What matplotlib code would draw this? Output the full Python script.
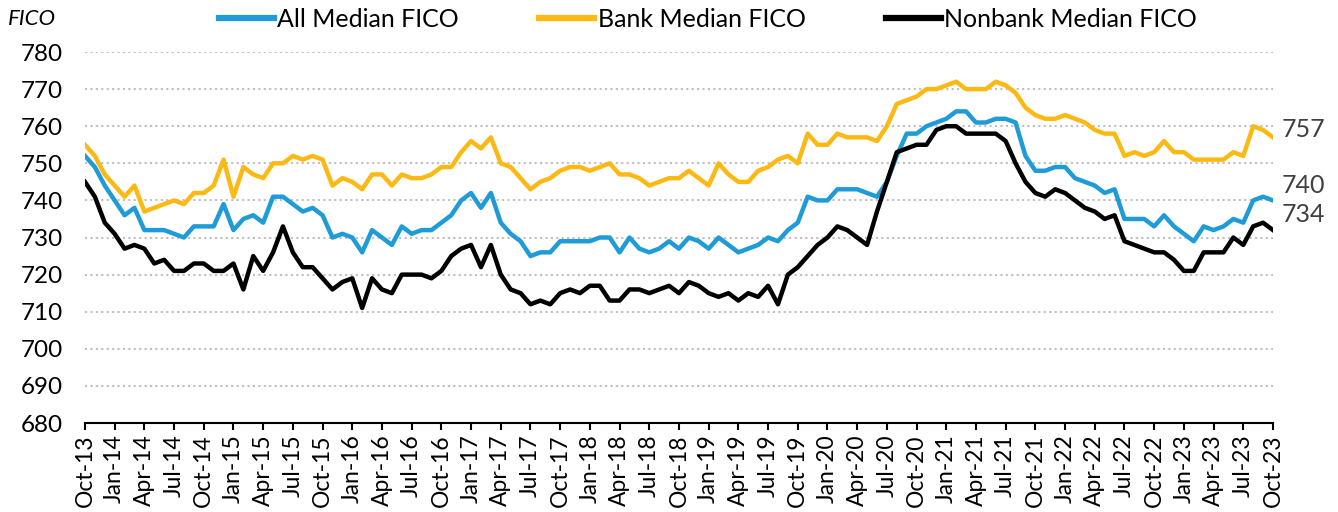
import matplotlib
matplotlib.use("Agg")
import matplotlib.pyplot as plt
import pandas as pd

plt.rcParams['font.family'] = ['Lato', 'DejaVu Sans']

# monthly, Oct-13 .. Oct-23
months = pd.date_range("2013-10-01", periods=121, freq="MS")

all_fico = [752, 749, 744, 740, 736, 738, 732, 732, 732, 731, 730, 733, 733, 733, 739, 732, 735, 736, 734, 741,
            741, 739, 737, 738, 736, 730, 731, 730, 726, 732, 730, 728, 733, 731, 732, 732, 734, 736, 740,
            742, 738, 742, 734, 731, 729, 725, 726, 726, 729, 729, 729, 729, 730, 730, 726, 730, 727, 726,
            727, 729, 727, 730, 729, 727, 730, 728, 726, 727, 728, 730, 729, 732, 734, 741, 740, 740, 743,
            743, 743, 742, 741, 745, 752, 758, 758, 760, 761, 762, 764, 764, 761, 761, 762, 762, 761, 752,
            748, 748, 749, 749, 746, 745, 744, 742, 743, 735, 735, 735, 733, 736, 733, 731, 729, 733, 732, 733,
            735, 734, 740, 741, 740]

bank_fico = [755, 752, 747, 744, 741, 744, 737, 738, 739, 740, 739, 742, 742, 744, 751, 741, 749, 747, 746, 750,
             750, 752, 751, 752, 751, 744, 746, 745, 743, 747, 747, 744, 747, 746, 746, 747, 749, 749, 753,
             756, 754, 757, 750, 749, 746, 743, 745, 746, 748, 749, 749, 748, 749, 750, 747, 747, 746, 744,
             745, 746, 746, 748, 746, 744, 750, 747, 745, 745, 748, 749, 751, 752, 750, 758, 755, 755, 758,
             757, 757, 757, 756, 760, 766, 767, 768, 770, 770, 771, 772, 770, 770, 770, 772, 771, 769, 765,
             763, 762, 762, 763, 762, 761, 759, 758, 758, 752, 753, 752, 753, 756, 753, 753, 751, 751, 751, 751,
             753, 752, 760, 759, 757]

nonbank_fico = [745, 741, 734, 731, 727, 728, 727, 723, 724, 721, 721, 723, 723, 721, 721, 723, 716, 725, 721, 726,
                733, 726, 722, 722, 719, 716, 718, 719, 711, 719, 716, 715, 720, 720, 720, 719, 721, 725, 727,
                728, 722, 728, 720, 716, 715, 712, 713, 712, 715, 716, 715, 717, 717, 713, 713, 716, 716, 715,
                716, 717, 715, 718, 717, 715, 714, 715, 713, 715, 714, 717, 712, 720, 722, 725, 728, 730, 733,
                732, 730, 728, 737, 745, 753, 754, 755, 755, 759, 760, 760, 758, 758, 758, 758, 756, 750, 745,
                742, 741, 743, 742, 740, 738, 737, 735, 736, 729, 728, 727, 726, 726, 724, 721, 721, 726, 726, 726,
                730, 728, 733, 734, 732]

series_names = ["All Median FICO", "Bank Median FICO", "Nonbank Median FICO"]
series_colors = ["#1f9bd7", "#fdb913", "#000000"]

end_labels = ["757", "740", "734"]
end_label_y = [759, 744, 736.3]

fig = plt.figure(figsize=(13.38, 5.12), dpi=100)
ax = fig.add_axes([0.0635, 0.1738, 0.8879, 0.7246])

x = range(len(months))
for vals, name, col in zip([all_fico, bank_fico, nonbank_fico], series_names, series_colors):
    ax.plot(x, vals, color=col, lw=3.2, label=name)

ax.set_xlim(0, len(months) - 1)
ax.set_ylim(680, 780)
ax.set_yticks(range(680, 781, 10))
ax.set_xticks(range(0, len(months), 3))
ax.set_xticklabels([m.strftime("%b-%y") for m in months[::3]], rotation=90)

ax.tick_params(axis="y", length=0, pad=16, labelsize=17.5, colors="black")
ax.tick_params(axis="x", length=5, width=1.5, direction="out", pad=3, labelsize=16.5)

ax.grid(axis="y", color="#bfbfbf", lw=1.5, linestyle=(0, (1, 1.6)))
ax.set_axisbelow(True)
for s in ["left", "right", "top"]:
    ax.spines[s].set_visible(False)
ax.spines["bottom"].set_linewidth(1.5)

for lab, yv in zip(end_labels, end_label_y):
    ax.annotate(lab, xy=(len(months) - 1, yv), xytext=(6, 0), textcoords="offset points",
                va="center", ha="left", fontsize=18, color="#404040", annotation_clip=False)

fig.text(0.006, 0.962, "FICO", fontsize=16, style="italic", va="center", ha="left")

leg = fig.legend(loc="center", bbox_to_anchor=(0.529, 0.962), ncol=3, frameon=False,
                 fontsize=18, handlelength=2.2, handletextpad=0.15, columnspacing=3.2)
for h in leg.get_lines():
    h.set_linewidth(4.5)

fig.savefig("out.png", dpi=100)
